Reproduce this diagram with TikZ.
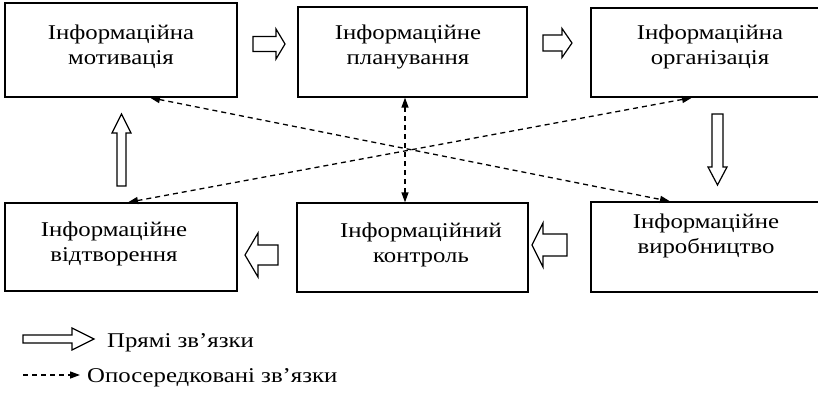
\documentclass[tikz,border=0pt]{standalone}
\usepackage{fontspec}
\setmainfont{Liberation Serif}
\newfontfamily\boxfont[FakeStretch=1.18]{Liberation Serif}
\usetikzlibrary{arrows.meta,calc}
\tikzset{
  box/.style={draw=black, line width=1.3pt, fill=white, inner sep=0pt},
  boxtext/.style={font=\boxfont\fontsize{21}{25}\selectfont, align=center, inner sep=0pt},
  legtext/.style={font=\boxfont\fontsize{21}{25}\selectfont, inner sep=0pt, anchor=base west},
  blockline/.style={draw=black, line width=1.2pt, fill=white, line join=miter},
  dasharrow/.style={line width=1.3pt, dash pattern=on 5pt off 4pt,
    {Triangle[length=10pt,width=7pt]}-{Triangle[length=10pt,width=7pt]}},
  dashsingle/.style={line width=1.3pt, dash pattern=on 5pt off 4pt,
    -{Triangle[length=10pt,width=7pt]}},
  pics/harrow/.style n args={4}{code={
    \draw[blockline] (0,-#2) -- (#1-#4,-#2) -- (#1-#4,-#3) -- (#1,0)
      -- (#1-#4,#3) -- (#1-#4,#2) -- (0,#2) -- cycle;}}
}
\begin{document}
\begin{tikzpicture}[x=1pt,y=-1pt]
\clip (0,0) rectangle (818,393);
\fill[white] (0,0) rectangle (818,393);

% boxes
\node[box, minimum width=232pt, minimum height=94pt] (b1) at (121,50) {};
\node[box, minimum width=229pt, minimum height=90pt] (b2) at (412.5,52) {};
\node[box, minimum width=232pt, minimum height=89pt] (b3) at (707,52.5) {};
\node[box, minimum width=232pt, minimum height=88pt] (b4) at (121,247) {};
\node[box, minimum width=231pt, minimum height=89pt] (b5) at (412.5,247.5) {};
\node[box, minimum width=232pt, minimum height=90pt] (b6) at (707,247) {};

% texts
\node[boxtext] (t1) at (121,46.6) {Інформаційна\\мотивація};
\node[boxtext] (t2) at (408,47) {Інформаційне\\планування};
\node[boxtext] (t3) at (710,47) {Інформаційна\\організація};
\node[boxtext] (t4) at (114,243.5) {Інформаційне\\відтворення};
\node[boxtext] (t5) at (421,245) {Інформаційний\\контроль};
\node[boxtext] (t6) at (706,236) {Інформаційне\\виробництво};

% direct (block) arrows
\pic at (253,44) {harrow={32}{7.5}{15}{9}};
\pic at (543,43) {harrow={29}{8}{14.5}{10}};
\pic[rotate=-90] at (717.5,114) {harrow={71}{5.5}{9.5}{18}};
\pic[rotate=180] at (567,245) {harrow={35}{11}{22}{11}};
\pic[rotate=180] at (278,255) {harrow={33}{10}{22}{13}};
\pic[rotate=90] at (121.5,186) {harrow={72}{4.5}{9.5}{19}};

% indirect (dashed) links
\draw[dasharrow] ([xshift=29pt]b1.south) -- ([xshift=-37pt]b6.north);
\draw[dasharrow] ([xshift=7pt]b4.north) -- ([xshift=-15pt]b3.south);
\draw[dasharrow] ([xshift=-7.5pt]b2.south) -- ([xshift=-7.5pt]b5.north);

% legend
\pic at (23,339) {harrow={71}{4}{11}{22}};
\node[legtext] (l1) at (107,347) {Прямі зв’язки};
\coordinate (l2a) at (23,375);
\coordinate (l2b) at (80,375);
\draw[dashsingle] (l2a) -- (l2b);
\node[legtext] (l2) at (87,382) {Опосередковані зв’язки};
\end{tikzpicture}
\end{document}
